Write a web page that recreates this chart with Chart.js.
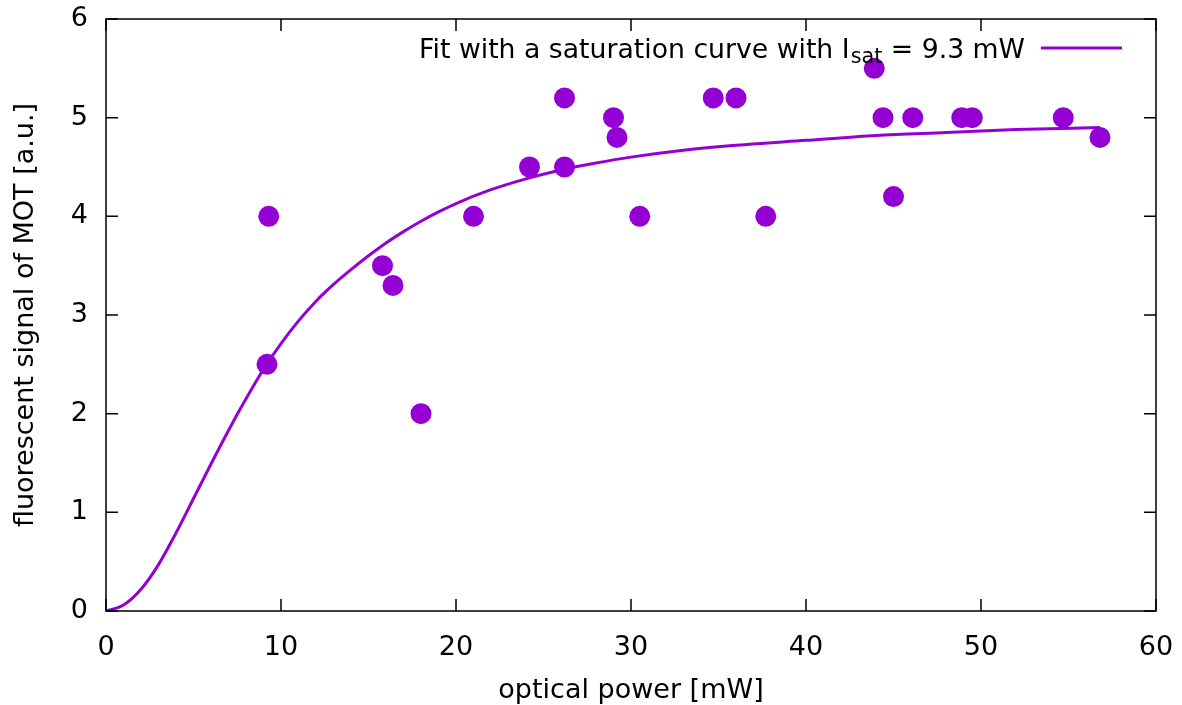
<!DOCTYPE html>
<html>
<head>
<meta charset="utf-8">
<script src="https://cdn.jsdelivr.net/npm/chart.js@4"></script>
<style>
  html, body { margin: 0; padding: 0; background: #ffffff; }
  #wrap { width: 1182px; height: 705px; }
</style>
</head>
<body>
<div id="wrap"><canvas id="c" width="1182" height="705"></canvas></div>
<script>
// Measured data points (optical power in mW, fluorescent signal in a.u.)
const powerX = [9.2, 9.3, 15.8, 16.4, 18.0, 21.0, 24.2, 26.2, 26.2, 29.0, 29.2, 30.5,
                34.7, 36.0, 37.7, 43.9, 44.4, 45.0, 46.1, 48.9, 49.5, 54.7, 56.8];
const signalY = [2.5, 4.0, 3.5, 3.3, 2.0, 4.0, 4.5, 5.2, 4.5, 5.0, 4.8, 4.0,
                 5.2, 5.2, 4.0, 5.5, 5.0, 4.2, 5.0, 5.0, 5.0, 5.0, 4.8];

// Fit curve
const fitX = [0, 1, 2, 3, 4, 5, 6, 7, 8, 9, 10, 11, 12, 13, 14, 15, 16, 17, 18, 19, 20,
              22, 24, 26, 28, 30, 33, 36, 40, 44, 48, 52, 56.8];
const fitY = [0, 0.06, 0.22, 0.47, 0.79, 1.14, 1.49, 1.83, 2.15, 2.45, 2.71, 2.94, 3.14, 3.31, 3.46,
              3.60, 3.73, 3.845, 3.95, 4.045, 4.13, 4.27, 4.38, 4.47, 4.54, 4.60, 4.67, 4.72,
              4.77, 4.82, 4.85, 4.88, 4.90];

const xTicks = [0, 10, 20, 30, 40, 50, 60];
const yTicks = [0, 1, 2, 3, 4, 5, 6];

const legendMain = "Fit with a saturation curve with I";
const legendSub = "sat";
const legendRest = " = 9.3 mW";
const xTitle = "optical power [mW]";
const yTitle = "fluorescent signal of MOT [a.u.]";

const COLOR = '#9400d3';
const FONT = '"DejaVu Sans", "Liberation Sans", sans-serif';

const pts = powerX.map((x, i) => ({ x: x, y: signalY[i] }));
const fit = fitX.map((x, i) => ({ x: x, y: fitY[i] }));

const framePlugin = {
  id: 'frame',
  afterDraw(chart) {
    const ctx = chart.ctx;
    const a = chart.chartArea;
    const xs = chart.scales.x, ys = chart.scales.y;
    ctx.save();
    ctx.strokeStyle = '#000';
    ctx.lineWidth = 1.5;
    ctx.beginPath();
    ctx.rect(a.left, a.top, a.right - a.left, a.bottom - a.top);
    ctx.stroke();
    const L = 12;
    ctx.beginPath();
    xTicks.forEach(v => {
      const p = xs.getPixelForValue(v);
      ctx.moveTo(p, a.bottom); ctx.lineTo(p, a.bottom - L);
      ctx.moveTo(p, a.top); ctx.lineTo(p, a.top + L);
    });
    yTicks.forEach(v => {
      const p = ys.getPixelForValue(v);
      ctx.moveTo(a.left, p); ctx.lineTo(a.left + L, p);
      ctx.moveTo(a.right, p); ctx.lineTo(a.right - L, p);
    });
    ctx.stroke();

    // Legend (key) at top right, with subscript
    const mainFont = '26.7px ' + FONT;
    const subFont = '20.8px ' + FONT;
    ctx.fillStyle = '#000';
    ctx.textBaseline = 'alphabetic';
    ctx.textAlign = 'left';
    ctx.font = mainFont;
    const w1 = ctx.measureText(legendMain).width;
    const w3 = ctx.measureText(legendRest).width;
    ctx.font = subFont;
    const w2 = ctx.measureText(legendSub).width;
    const rightEdge = a.right - 132;
    const baseY = a.top + 39;
    let x0 = rightEdge - (w1 + w2 + w3);
    ctx.font = mainFont;
    ctx.fillText(legendMain, x0, baseY);
    ctx.font = subFont;
    ctx.fillText(legendSub, x0 + w1 + 1, baseY + 5);
    ctx.font = mainFont;
    ctx.fillText(legendRest, x0 + w1 + w2 + 1, baseY);
    // legend line sample
    ctx.strokeStyle = COLOR;
    ctx.lineWidth = 3;
    ctx.beginPath();
    ctx.moveTo(a.right - 115, a.top + 29);
    ctx.lineTo(a.right - 34, a.top + 29);
    ctx.stroke();
    ctx.restore();
  }
};

new Chart(document.getElementById('c'), {
  data: {
    datasets: [
      {
        type: 'line',
        label: 'fit',
        data: fit,
        borderColor: COLOR,
        borderWidth: 3,
        pointRadius: 0,
        fill: false,
        cubicInterpolationMode: 'monotone'
      },
      {
        type: 'scatter',
        label: 'data',
        data: pts,
        backgroundColor: COLOR,
        borderColor: COLOR,
        borderWidth: 0,
        pointRadius: 10.5,
        pointHoverRadius: 10.5
      }
    ]
  },
  options: {
    responsive: false,
    animation: false,
    layout: { padding: { top: 19, right: 26, left: 0, bottom: 0 } },
    plugins: {
      legend: { display: false },
      tooltip: { enabled: false }
    },
    scales: {
      x: {
        type: 'linear',
        min: 0, max: 60,
        afterBuildTicks(scale) { scale.ticks = xTicks.map(v => ({ value: v })); },
        afterFit(scale) {
          scale.height = 94;
          scale.paddingLeft = 0; scale.paddingRight = 0;
        },
        grid: { display: false, drawTicks: false },
        border: { display: false },
        ticks: {
          color: '#000',
          padding: 21,
          maxRotation: 0,
          font: { family: FONT, size: 27 }
        },
        title: {
          display: true,
          text: xTitle,
          color: '#000',
          font: { family: FONT, size: 27 },
          padding: { top: 0, bottom: -2 }
        }
      },
      y: {
        type: 'linear',
        min: 0, max: 6,
        afterBuildTicks(scale) { scale.ticks = yTicks.map(v => ({ value: v })); },
        afterFit(scale) {
          scale.width = 106;
          scale.paddingTop = 0; scale.paddingBottom = 0;
        },
        grid: { display: false, drawTicks: false },
        border: { display: false },
        ticks: {
          color: '#000',
          padding: 18,
          font: { family: FONT, size: 27 }
        },
        title: {
          display: true,
          text: yTitle,
          color: '#000',
          font: { family: FONT, size: 27 },
          padding: { top: 10, bottom: 0 }
        }
      }
    }
  },
  plugins: [framePlugin]
});
</script>
</body>
</html>
